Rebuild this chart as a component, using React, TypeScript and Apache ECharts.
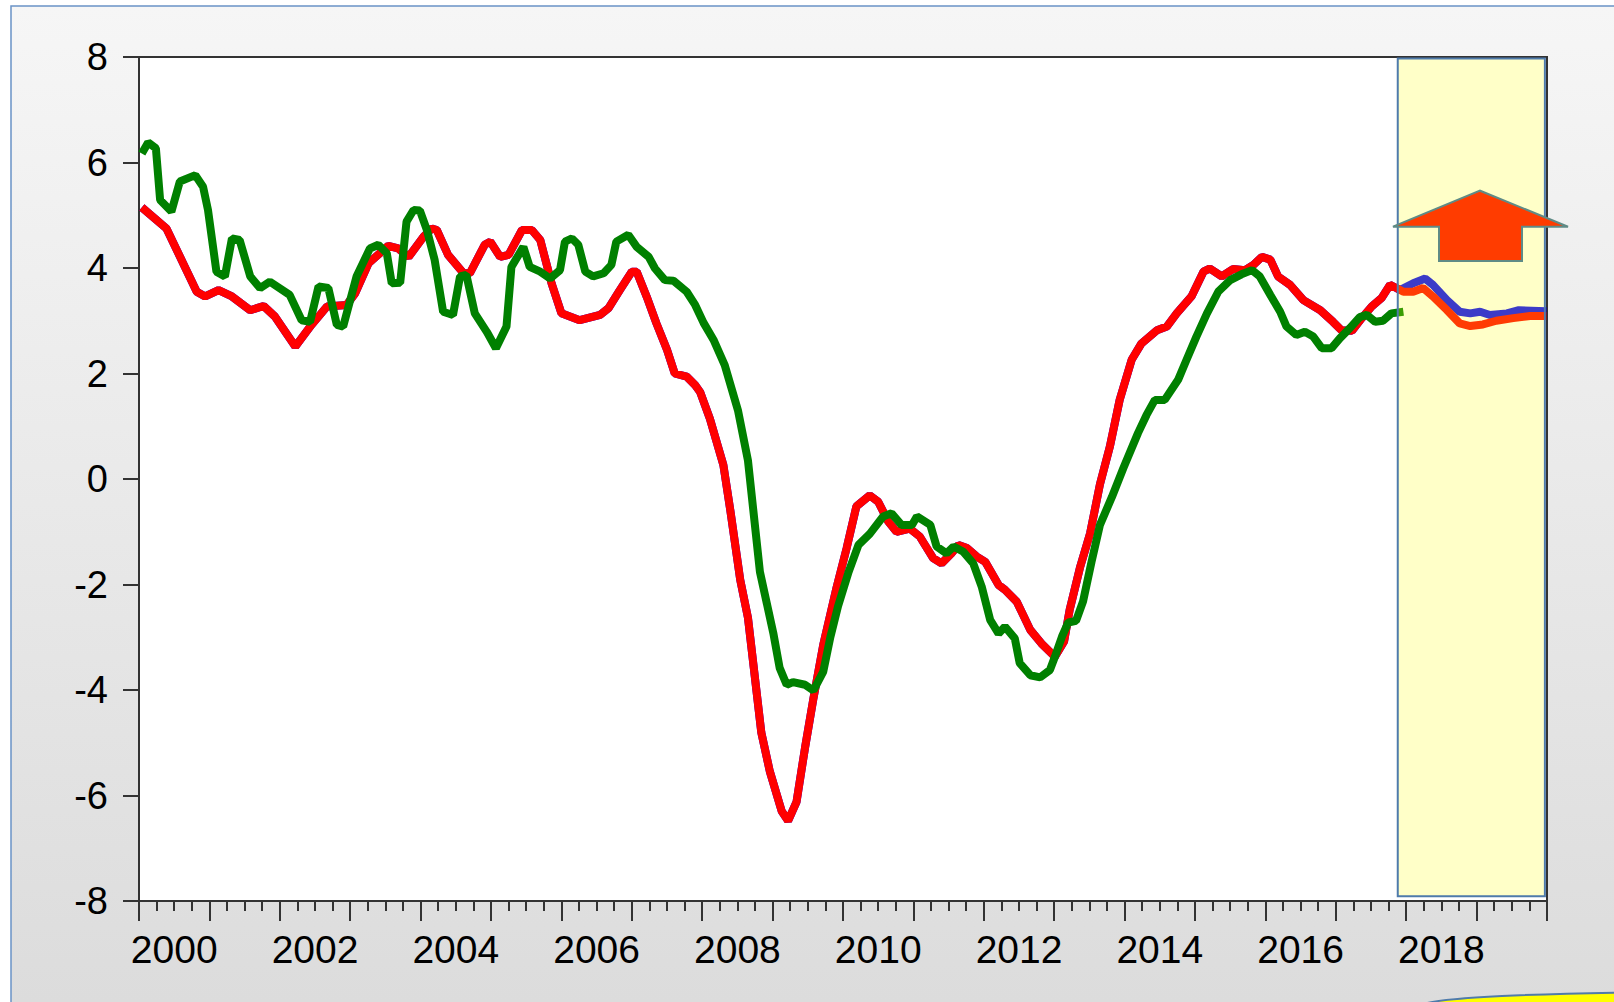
import React, { useEffect, useRef } from "react";
import * as echarts from "echarts";

// [year fraction, value] pairs
const redHistory: [number, number][] = [
  [2000.04, 5.15], [2000.39, 4.75], [2000.82, 3.55], [2000.94, 3.46], [2001.13, 3.58],
  [2001.32, 3.46], [2001.58, 3.2], [2001.77, 3.28], [2001.93, 3.08], [2002.22, 2.51],
  [2002.45, 2.92], [2002.67, 3.27], [2002.95, 3.3], [2003.07, 3.52], [2003.26, 4.09],
  [2003.54, 4.42], [2003.68, 4.37], [2003.83, 4.21], [2004.04, 4.59], [2004.16, 4.75],
  [2004.23, 4.72], [2004.39, 4.25], [2004.61, 3.9], [2004.7, 3.9], [2004.91, 4.44],
  [2004.99, 4.5], [2005.13, 4.21], [2005.25, 4.25], [2005.44, 4.72], [2005.58, 4.72],
  [2005.7, 4.53], [2005.86, 3.71], [2006.0, 3.14], [2006.26, 3.01], [2006.55, 3.11],
  [2006.67, 3.24], [2006.83, 3.58], [2007.0, 3.93], [2007.07, 3.93], [2007.21, 3.46],
  [2007.35, 2.95], [2007.5, 2.45], [2007.61, 2.0], [2007.78, 1.94], [2007.9, 1.78],
  [2007.97, 1.65], [2008.11, 1.14], [2008.3, 0.27], [2008.4, -0.6], [2008.54, -1.91],
  [2008.65, -2.63], [2008.84, -4.81], [2008.96, -5.54], [2009.13, -6.3], [2009.22, -6.48],
  [2009.34, -6.12], [2009.46, -5.1], [2009.58, -4.16], [2009.72, -3.14], [2009.91, -2.05],
  [2010.05, -1.32], [2010.19, -0.52], [2010.38, -0.31], [2010.5, -0.43], [2010.64, -0.8],
  [2010.76, -1.0], [2010.95, -0.94], [2011.09, -1.09], [2011.28, -1.5], [2011.4, -1.6],
  [2011.54, -1.41], [2011.64, -1.25], [2011.76, -1.31], [2011.9, -1.47], [2012.02, -1.57],
  [2012.21, -2.01], [2012.3, -2.1], [2012.47, -2.33], [2012.66, -2.86], [2012.82, -3.12],
  [2013.01, -3.37], [2013.14, -3.08], [2013.22, -2.48], [2013.37, -1.66], [2013.51, -1.03],
  [2013.65, -0.1], [2013.79, 0.61], [2013.93, 1.5], [2014.1, 2.26], [2014.24, 2.57],
  [2014.46, 2.82], [2014.6, 2.89], [2014.74, 3.14], [2014.95, 3.46], [2015.12, 3.93],
  [2015.21, 3.99], [2015.38, 3.84], [2015.54, 3.98], [2015.71, 3.96], [2015.83, 4.06],
  [2015.95, 4.21], [2016.07, 4.16], [2016.18, 3.84], [2016.35, 3.68], [2016.54, 3.39],
  [2016.78, 3.2], [2016.96, 2.98], [2017.08, 2.82], [2017.23, 2.81], [2017.37, 3.05],
  [2017.51, 3.27], [2017.65, 3.43], [2017.77, 3.68], [2017.86, 3.62],
];

const redForecast: [number, number][] = [
  [2017.96, 3.55], [2018.1, 3.55], [2018.24, 3.62], [2018.38, 3.46], [2018.58, 3.2],
  [2018.76, 2.95], [2018.91, 2.9], [2019.09, 2.93], [2019.28, 3.0], [2019.52, 3.05],
  [2019.76, 3.09], [2019.99, 3.09],
];

const blueForecast: [number, number][] = [
  [2017.91, 3.58], [2018.1, 3.71], [2018.27, 3.8], [2018.38, 3.68], [2018.58, 3.39],
  [2018.76, 3.17], [2018.91, 3.14], [2019.05, 3.17], [2019.19, 3.11], [2019.43, 3.14],
  [2019.6, 3.2], [2019.99, 3.18],
];

const green: [number, number][] = [
  [2000.04, 6.17], [2000.13, 6.38], [2000.24, 6.27], [2000.3, 5.29], [2000.46, 5.07],
  [2000.58, 5.64], [2000.8, 5.76], [2000.91, 5.54], [2000.98, 5.1], [2001.1, 3.93],
  [2001.22, 3.84], [2001.32, 4.56], [2001.43, 4.53], [2001.58, 3.84], [2001.72, 3.62],
  [2001.86, 3.74], [2002.14, 3.49], [2002.31, 3.01], [2002.43, 2.98], [2002.55, 3.65],
  [2002.69, 3.62], [2002.81, 2.92], [2002.9, 2.89], [2003.09, 3.84], [2003.28, 4.37],
  [2003.4, 4.44], [2003.52, 4.28], [2003.59, 3.71], [2003.71, 3.72], [2003.8, 4.88],
  [2003.9, 5.1], [2003.99, 5.09], [2004.09, 4.72], [2004.2, 4.15], [2004.32, 3.17],
  [2004.46, 3.11], [2004.56, 3.84], [2004.65, 3.87], [2004.77, 3.14], [2004.94, 2.79],
  [2005.07, 2.48], [2005.22, 2.89], [2005.29, 4.02], [2005.46, 4.4], [2005.55, 4.02],
  [2005.7, 3.93], [2005.84, 3.8], [2005.98, 3.96], [2006.05, 4.5], [2006.15, 4.56],
  [2006.24, 4.44], [2006.34, 3.93], [2006.45, 3.84], [2006.6, 3.9], [2006.71, 4.06],
  [2006.78, 4.5], [2006.95, 4.63], [2007.07, 4.4], [2007.24, 4.21], [2007.33, 3.99],
  [2007.47, 3.77], [2007.59, 3.76], [2007.78, 3.55], [2007.9, 3.3], [2008.02, 2.96],
  [2008.16, 2.64], [2008.32, 2.16], [2008.51, 1.29], [2008.65, 0.35], [2008.82, -1.76],
  [2009.01, -2.92], [2009.1, -3.58], [2009.2, -3.9], [2009.29, -3.85], [2009.46, -3.9],
  [2009.58, -4.01], [2009.72, -3.65], [2009.82, -3.0], [2009.93, -2.41], [2010.08, -1.76],
  [2010.22, -1.25], [2010.38, -1.04], [2010.57, -0.71], [2010.69, -0.65], [2010.83, -0.87],
  [2010.98, -0.87], [2011.05, -0.71], [2011.24, -0.87], [2011.33, -1.28], [2011.47, -1.41],
  [2011.57, -1.28], [2011.71, -1.38], [2011.85, -1.6], [2011.97, -2.04], [2012.09, -2.67],
  [2012.21, -2.93], [2012.3, -2.8], [2012.44, -3.02], [2012.51, -3.49], [2012.66, -3.72],
  [2012.8, -3.76], [2012.94, -3.62], [2013.01, -3.37], [2013.11, -2.99], [2013.2, -2.72],
  [2013.31, -2.69], [2013.41, -2.32], [2013.53, -1.57], [2013.65, -0.87], [2013.82, -0.34],
  [2013.98, 0.2], [2014.19, 0.87], [2014.31, 1.21], [2014.43, 1.5], [2014.57, 1.5],
  [2014.76, 1.88], [2014.88, 2.26], [2015.02, 2.7], [2015.17, 3.14], [2015.33, 3.55],
  [2015.5, 3.77], [2015.66, 3.88], [2015.81, 3.96], [2015.92, 3.84], [2016.07, 3.49],
  [2016.21, 3.17], [2016.3, 2.89], [2016.44, 2.73], [2016.56, 2.79], [2016.68, 2.7],
  [2016.8, 2.48], [2016.94, 2.48], [2017.06, 2.67], [2017.2, 2.86], [2017.34, 3.07],
  [2017.44, 3.11], [2017.56, 2.98], [2017.67, 3.0], [2017.79, 3.14], [2017.96, 3.17],
];

const yearTicksMin = 2000;
const yearTicksMax = 2020;
const yearLabels = [2000, 2002, 2004, 2006, 2008, 2010, 2012, 2014, 2016, 2018];
const forecastStart = 2017.88;
const forecastEnd = 2019.97;

export default function App() {
  const ref = useRef<HTMLDivElement>(null);
  useEffect(() => {
    if (!ref.current) return;
    const chart = echarts.init(ref.current, undefined, { renderer: "svg" });
    const font = "'Liberation Sans', Arial, sans-serif";
    chart.setOption({
      animation: false,
      backgroundColor: "#ffffff",
      grid: {
        left: 139,
        right: 67,
        top: 57,
        bottom: 101,
        show: true,
        backgroundColor: "#ffffff",
        borderColor: "#333333",
        borderWidth: 2,
      },
      xAxis: {
        type: "value",
        min: yearTicksMin,
        max: yearTicksMax,
        interval: 1,
        axisLine: { show: true, onZero: false, lineStyle: { color: "#333333", width: 2 } },
        axisTick: { show: true, inside: false, length: 20, lineStyle: { color: "#333333", width: 2 } },
        minorTick: { show: true, splitNumber: 4, length: 10, lineStyle: { color: "#333333", width: 2 } },
        splitLine: { show: false },
        minorSplitLine: { show: false },
        axisLabel: {
          customValues: yearLabels.map((y) => y + 0.5),
          formatter: (v: number) => String(Math.round(v - 0.5)),
          color: "#000000",
          fontFamily: font,
          fontSize: 39,
          margin: 29,
        },
      },
      yAxis: {
        type: "value",
        min: -8,
        max: 8,
        interval: 2,
        axisLine: { show: true, onZero: false, lineStyle: { color: "#333333", width: 2 } },
        axisTick: { show: true, inside: false, length: 16, lineStyle: { color: "#333333", width: 2 } },
        splitLine: { show: false },
        axisLabel: {
          color: "#000000",
          fontFamily: font,
          fontSize: 38,
          margin: 31,
        },
      },
      series: [
        {
          name: "blue",
          type: "line",
          data: [...redHistory, ...blueForecast],
          showSymbol: false,
          symbol: "none",
          z: 2,
          lineStyle: { color: "#0000ff", width: 8 },
        },
        {
          name: "red",
          type: "line",
          data: [...redHistory, ...redForecast],
          showSymbol: false,
          symbol: "none",
          z: 3,
          lineStyle: { color: "#ff0000", width: 8 },
        },
        {
          name: "green",
          type: "line",
          data: green,
          showSymbol: false,
          symbol: "none",
          z: 4,
          lineStyle: { color: "#008000", width: 8 },
        },
      ],
      graphic: [
        {
          id: "frame",
          type: "rect",
          z: -10,
          silent: true,
          shape: { x: 11, y: 6, width: 1700, height: 1100 },
          style: {
            fill: {
              type: "linear",
              x: 0,
              y: 6,
              x2: 0,
              y2: 1002,
              global: true,
              colorStops: [
                { offset: 0, color: "#f6f6f6" },
                { offset: 1, color: "#dcdcdc" },
              ],
            },
            stroke: "#6a93c6",
            lineWidth: 1.5,
          },
        },
        {
          id: "arrow",
          type: "polygon",
          z: 100,
          silent: true,
          shape: {
            points: [
              [1393, 226.7],
              [1480, 190.7],
              [1568, 226.7],
              [1522, 226.7],
              [1522, 261],
              [1439, 261],
              [1439, 226.7],
            ],
          },
          style: { fill: "#ff3c00", stroke: "#5f8b86", lineWidth: 2 },
        },
        {
          id: "blob",
          type: "ellipse",
          z: 100,
          silent: true,
          shape: { cx: 1700, cy: 1006, rx: 280, ry: 14 },
          style: { fill: "#ffff00", stroke: "#4f7bab", lineWidth: 2 },
        },
      ],
    });
    const p1 = chart.convertToPixel({ gridIndex: 0 }, [forecastStart, 7.97]) as number[];
    const p2 = chart.convertToPixel({ gridIndex: 0 }, [forecastEnd, -7.91]) as number[];
    chart.setOption({
      graphic: [
        {
          id: "overlay",
          type: "rect",
          z: 50,
          silent: true,
          shape: { x: p1[0], y: p1[1], width: p2[0] - p1[0], height: p2[1] - p1[1] },
          style: { fill: "rgba(255,255,16,0.23)", stroke: "#4f7bab", lineWidth: 2 },
        },
      ],
    });
    return () => chart.dispose();
  }, []);
  return (
    <div
      ref={ref}
      style={{ position: "absolute", left: 0, top: 0, width: 1614, height: 1002 }}
    />
  );
}
